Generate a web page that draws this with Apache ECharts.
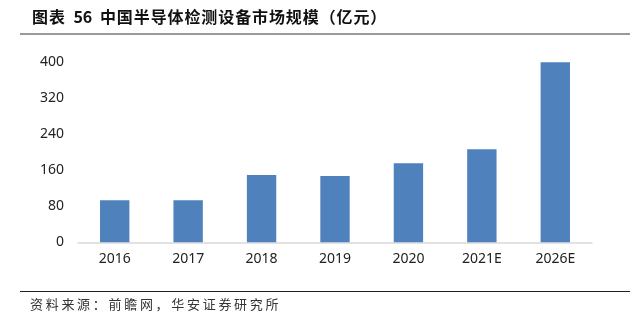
<!DOCTYPE html>
<html>
<head>
<meta charset="utf-8">
<script src="https://cdn.jsdelivr.net/npm/echarts@6/dist/echarts.min.js"></script>
<style>
  html, body { margin: 0; padding: 0; background: #fff; }
  #chart { width: 640px; height: 325px; }
</style>
</head>
<body>
<div id="chart"></div>
<script>
// Market size of semiconductor inspection equipment in China (100 million CNY)
const categories = ['2016', '2017', '2018', '2019', '2020', '2021E', '2026E'];
const marketSize = [93, 93, 149, 147, 175, 206, 399];
const yTicks = { min: 0, max: 400, interval: 80 };

const titleText = '图表 56 中国半导体检测设备市场规模（亿元）';
const sourceText = '资料来源：前瞻网，华安证券研究所';

const CJK = '"Noto Sans CJK SC", "Noto Sans", sans-serif';

// Lay out a string one glyph at a time with a fixed advance
function glyphRow(str, x0, y, step, style) {
  const out = [];
  let x = x0;
  for (const ch of str) {
    if (ch === ' ') { x += step * 0.45; continue; }
    const narrow = /[0-9A-Za-z]/.test(ch);
    out.push({
      type: 'text', x: x, y: y,
      style: Object.assign({ text: ch, verticalAlign: 'middle' }, style)
    });
    x += narrow ? step * 0.56 : step;
  }
  return out;
}

const chart = echarts.init(document.getElementById('chart'), null, { renderer: 'canvas' });

chart.setOption({
  backgroundColor: '#ffffff',
  animation: false,
  grid: { left: 78, right: 48, top: 61.7, bottom: 82.7, containLabel: false },
  xAxis: {
    type: 'category',
    data: categories,
    axisLine: { lineStyle: { color: '#d9d9d9', width: 1.5 } },
    axisTick: { show: false },
    axisLabel: { color: '#222', fontSize: 14, margin: 10, fontFamily: '"Noto Sans", sans-serif' }
  },
  yAxis: {
    type: 'value',
    min: yTicks.min, max: yTicks.max, interval: yTicks.interval,
    axisLine: { show: false },
    axisTick: { show: false },
    splitLine: { show: false },
    axisLabel: { color: '#222', fontSize: 14, margin: 14, fontFamily: '"Noto Sans", sans-serif' }
  },
  series: [{
    type: 'bar',
    data: marketSize,
    barWidth: '40%',
    itemStyle: { color: '#4f81bd' }
  }],
  graphic: [
    ...glyphRow(titleText, 32, 17, 16.9, {
      fill: '#111', font: 'bold 16px ' + CJK
    }),
    { type: 'rect', shape: { x: 20, y: 33, width: 610, height: 2 }, style: { fill: '#9a9a9a' } },
    { type: 'rect', shape: { x: 20, y: 291, width: 610, height: 1 }, style: { fill: '#222' } },
    ...glyphRow(sourceText, 30, 304, 15.7, {
      fill: '#333', font: '13px ' + CJK
    })
  ]
});
</script>
</body>
</html>
